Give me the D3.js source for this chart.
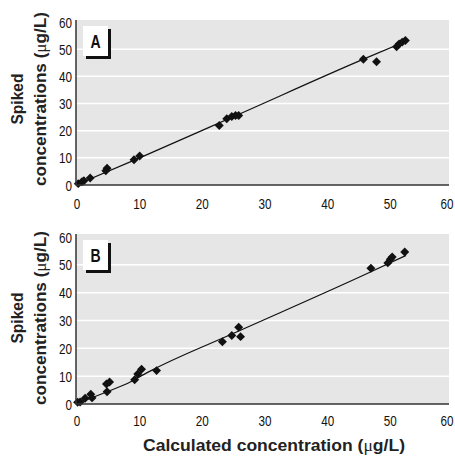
<!DOCTYPE html>
<html>
<head>
<meta charset="utf-8">
<script src="https://cdn.jsdelivr.net/npm/d3@7"></script>
<style>
  body { margin: 0; background: #fff; }
  svg text { font-family: "Liberation Sans", Arial, sans-serif; }
</style>
</head>
<body>
<div id="chart"></div>
<script>
var width = 455,
    height = 460;

// tick labels shared by both panels
var xTicks = [0, 10, 20, 30, 40, 50, 60];
var yTicks = [0, 10, 20, 30, 40, 50, 60];
var gridTicks = [10, 20, 30, 40, 50];

// Panel A: calculated vs spiked concentration (ug/L)
var calcA   = [0.2, 0.8, 1.1, 2.1, 4.6, 4.8, 9.1, 10.0, 22.7, 23.9, 24.7, 25.3, 25.8, 45.7, 47.8, 51.0, 51.4, 51.9, 52.4];
var spikedA = [0.5, 1.2, 1.6, 2.6, 5.2, 6.2, 9.3, 10.7, 21.9, 24.4, 25.2, 25.6, 25.6, 46.3, 45.4, 50.9, 51.9, 52.6, 53.2];
var fitA_x  = [0, 10, 25, 46, 52.6];
var fitA_y  = [0.2, 10.0, 25.2, 46.6, 53.0];

// Panel B
var calcB   = [0.1, 0.5, 1.3, 2.2, 2.4, 4.7, 5.2, 4.8, 9.2, 9.7, 10.3, 12.7, 23.2, 24.7, 25.8, 26.1, 46.9, 49.6, 50.0, 50.3, 52.3];
var spikedB = [0.6, 0.7, 2.1, 3.5, 2.2, 7.2, 7.9, 4.4, 8.7, 10.8, 12.5, 12.0, 22.4, 24.6, 27.6, 24.2, 48.8, 50.7, 52.0, 52.8, 54.6];
var fitB_x  = [0, 5, 8.5, 10.3, 12.7, 25, 47, 52.5];
var fitB_y  = [0.2, 4.6, 7.9, 10.2, 13.0, 25.4, 47.6, 53.4];

var panels = [
  { label: "A", xs: calcA, ys: spikedA, fx: fitA_x, fy: fitA_y, top: 20, bottom: 185, y60: 22, xLab: 209, titleY: 99 },
  { label: "B", xs: calcB, ys: spikedB, fx: fitB_x, fy: fitB_y, top: 234, bottom: 404, y60: 237, xLab: 426, titleY: 318 }
];

var plotLeft = 76, plotRight = 449;

var svg = d3.select("#chart").append("svg")
    .attr("width", width)
    .attr("height", height);

var x = d3.scaleLinear().domain([0, 60]).range([77, 453]);

var diamond = d3.symbol().type(d3.symbolSquare).size(40);

// narrow label: squeeze glyphs horizontally to mimic a condensed face
function narrowText(g, px, py, str, size, weight, anchor) {
  return g.append("text")
      .attr("transform", "translate(" + px + "," + py + ") scale(0.78,1)")
      .attr("text-anchor", anchor)
      .attr("font-size", size)
      .attr("font-weight", weight)
      .attr("fill", "#111")
      .text(str);
}

panels.forEach(function(p) {
  var y = d3.scaleLinear().domain([0, 60]).range([p.bottom, p.y60]);
  var g = svg.append("g");

  // plot background
  g.append("rect")
      .attr("x", plotLeft)
      .attr("y", p.top)
      .attr("width", plotRight - plotLeft)
      .attr("height", p.bottom - p.top)
      .attr("fill", "#e6e6e7");

  // white gridlines
  g.selectAll(".grid")
      .data(gridTicks)
    .enter().append("line")
      .attr("x1", plotLeft).attr("x2", plotRight)
      .attr("y1", function(d) { return y(d); })
      .attr("y2", function(d) { return y(d); })
      .attr("stroke", "#fff")
      .attr("stroke-width", 1.5);

  // fitted line
  var line = d3.line()
      .x(function(d, i) { return x(p.fx[i]); })
      .y(function(d, i) { return y(p.fy[i]); })
      .curve(d3.curveMonotoneX);
  g.append("path")
      .datum(p.fx)
      .attr("d", line)
      .attr("fill", "none")
      .attr("stroke", "#111")
      .attr("stroke-width", 1.2);

  // points (diamonds)
  g.selectAll(".pt")
      .data(p.xs)
    .enter().append("path")
      .attr("d", diamond)
      .attr("transform", function(d, i) {
        return "translate(" + x(d) + "," + y(p.ys[i]) + ") rotate(45)";
      })
      .attr("fill", "#111");

  // axes lines
  g.append("line")
      .attr("x1", plotLeft).attr("x2", plotLeft)
      .attr("y1", p.top).attr("y2", p.bottom)
      .attr("stroke", "#333").attr("stroke-width", 1.5);
  g.append("line")
      .attr("x1", plotLeft).attr("x2", plotRight)
      .attr("y1", p.bottom).attr("y2", p.bottom)
      .attr("stroke", "#333").attr("stroke-width", 1.5);

  // y tick labels
  yTicks.forEach(function(d) {
    narrowText(g, 72, y(d) + 5.5, d, 15, "normal", "end");
  });

  // x tick labels
  xTicks.forEach(function(d) {
    narrowText(g, Math.min(x(d), width - 8), p.xLab, d, 15, "normal", "middle");
  });

  // y axis title (two lines)
  g.append("text")
      .attr("transform", "translate(23," + p.titleY + ") rotate(-90)")
      .attr("text-anchor", "middle")
      .attr("font-size", 17)
      .attr("font-weight", "bold")
      .attr("fill", "#222")
      .attr("textLength", 51)
      .attr("lengthAdjust", "spacingAndGlyphs")
      .text("Spiked");
  var t2 = g.append("text")
      .attr("transform", "translate(46," + p.titleY + ") rotate(-90)")
      .attr("text-anchor", "middle")
      .attr("font-size", 17)
      .attr("font-weight", "bold")
      .attr("fill", "#222")
      .attr("textLength", 174)
      .attr("lengthAdjust", "spacingAndGlyphs");
  t2.append("tspan").text("concentrations (");
  t2.append("tspan").attr("font-weight", "normal").style("font-family", "'Liberation Serif', serif").text("\u03bc");
  t2.append("tspan").text("g/L)");

  // panel label box with shadow
  var bx = 83, by = p.top + 6;
  g.append("rect")
      .attr("x", bx + 3).attr("y", by + 3)
      .attr("width", 25).attr("height", 30)
      .attr("fill", "#111");
  g.append("rect")
      .attr("x", bx).attr("y", by)
      .attr("width", 25).attr("height", 30)
      .attr("fill", "#fff");
  narrowText(g, bx + 12.5, by + 22, p.label, 18, "bold", "middle");
});

// x axis title
var xt = svg.append("text")
    .attr("x", 274)
    .attr("y", 451)
    .attr("text-anchor", "middle")
    .attr("font-size", 17)
    .attr("font-weight", "bold")
    .attr("fill", "#222")
    .attr("textLength", 262)
    .attr("lengthAdjust", "spacingAndGlyphs");
xt.append("tspan").text("Calculated concentration (");
xt.append("tspan").attr("font-weight", "normal").style("font-family", "'Liberation Serif', serif").text("\u03bc");
xt.append("tspan").text("g/L)");
</script>
</body>
</html>
